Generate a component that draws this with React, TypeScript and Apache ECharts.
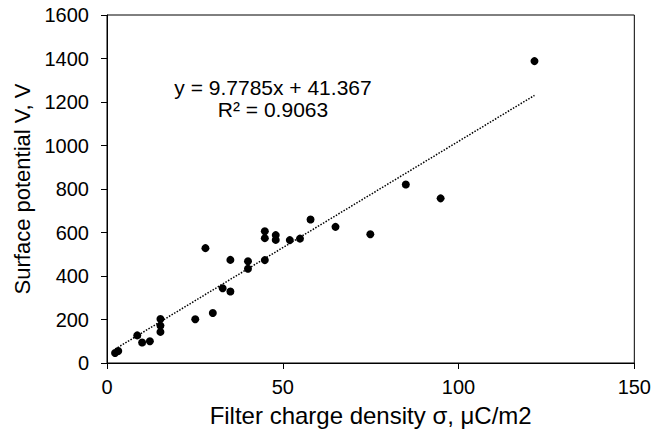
import React, { useEffect, useRef } from "react";
import * as echarts from "echarts";

const chargeDensity = [2.3, 3.2, 8.6, 10, 12.2, 15.2, 15.2, 15.2, 25.1, 28, 30.1, 32.9, 35.1, 35.1, 40.1, 40.1, 44.9, 44.9, 44.9, 48, 48, 52, 54.9, 57.9, 65, 74.9, 85, 94.9, 121.6];
const surfacePotential = [46, 55, 127, 94, 100, 202, 172, 143, 201, 528, 230, 344, 329, 474, 468, 433, 606, 574, 473, 588, 566, 565, 572, 660, 626, 592, 821, 757, 1388];
const trendSlope = 9.7785;
const trendIntercept = 41.367;
const rSquared = 0.9063;
const xTicks = [0, 50, 100, 150];
const yTicks = [0, 200, 400, 600, 800, 1000, 1200, 1400, 1600];

const FONT = "'Liberation Sans', Arial, sans-serif";

export default function App() {
  const ref = useRef<HTMLDivElement>(null);
  useEffect(() => {
    if (!ref.current) return;
    const chart = echarts.init(ref.current, undefined, { renderer: "svg" });
    const points = chargeDensity.map((x, i) => [x, surfacePotential[i]]);
    const xMin = Math.min(...chargeDensity);
    const xMax = Math.max(...chargeDensity);
    const trend = [
      [xMin, trendSlope * xMin + trendIntercept],
      [xMax, trendSlope * xMax + trendIntercept],
    ];
    chart.setOption({
      animation: false,
      backgroundColor: "#ffffff",
      textStyle: { fontFamily: FONT },
      grid: {
        left: 107,
        right: 17,
        top: 15,
        bottom: 72,
        show: true,
        borderColor: "#000",
        borderWidth: 1,
        backgroundColor: "transparent",
      },
      xAxis: {
        type: "value",
        min: xTicks[0],
        max: xTicks[xTicks.length - 1],
        interval: 50,
        name: "Filter charge density σ, μC/m2",
        nameLocation: "middle",
        nameGap: 40,
        nameTextStyle: { fontSize: 24, color: "#000", fontFamily: FONT },
        axisLine: { show: true, onZero: false, lineStyle: { color: "#000", width: 1 } },
        axisTick: { show: true, inside: false, length: 6, lineStyle: { color: "#000" } },
        axisLabel: { fontSize: 20, color: "#000", margin: 14, fontFamily: FONT, formatter: (v: number) => String(v) },
        splitLine: { show: false },
      },
      yAxis: {
        type: "value",
        min: yTicks[0],
        max: yTicks[yTicks.length - 1],
        interval: 200,
        name: "Surface potential V, V",
        nameLocation: "middle",
        nameGap: 72,
        nameTextStyle: { fontSize: 22, color: "#000", fontFamily: FONT },
        axisLine: { show: true, lineStyle: { color: "#000", width: 1 } },
        axisTick: { show: true, inside: false, length: 6, lineStyle: { color: "#000" } },
        axisLabel: { fontSize: 20, color: "#000", margin: 18, fontFamily: FONT, formatter: (v: number) => String(v) },
        splitLine: { show: false },
      },
      series: [
        {
          type: "line",
          data: trend,
          symbol: "none",
          lineStyle: { color: "#000", width: 1.5, type: [1.5, 1.5] },
          silent: true,
          z: 1,
        },
        {
          type: "scatter",
          data: points,
          symbol: "circle",
          symbolSize: 8,
          itemStyle: { color: "#000", opacity: 1 },
          z: 2,
        },
      ],
      graphic: [
        {
          type: "text",
          x: 273,
          y: 76,
          style: {
            text: `y = ${trendSlope}x + ${trendIntercept}\nR² = ${rSquared}`,
            fontSize: 21,
            fontFamily: FONT,
            fill: "#000",
            align: "center",
            verticalAlign: "top",
            lineHeight: 22,
          },
        },
      ],
    });
    return () => chart.dispose();
  }, []);
  return (
    <div
      ref={ref}
      style={{ position: "absolute", left: 0, top: 0, width: 654, height: 435 }}
    />
  );
}
